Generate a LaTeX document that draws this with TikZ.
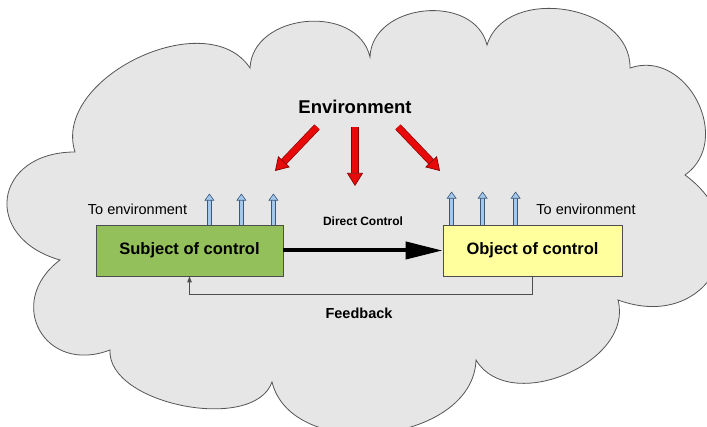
\documentclass[tikz,border=0pt]{standalone}
\usepackage{fontspec}
\setmainfont{Liberation Sans}
\usetikzlibrary{arrows.meta,calc,positioning}

\definecolor{cloudgray}{HTML}{E6E6E6}
\definecolor{cloudline}{HTML}{555555}
\definecolor{boxline}{HTML}{4D4D4D}
\definecolor{subjgreen}{HTML}{93C05B}
\definecolor{objyellow}{HTML}{FFFF9E}
\definecolor{envred}{HTML}{E80A0A}
\definecolor{redline}{HTML}{8A0000}
\definecolor{envblue}{HTML}{A4C8EC}
\definecolor{blueline}{HTML}{3C5878}

% one puff of the cloud: from #1 to #2, bulge #3
\newcommand{\lobe}[3]{.. controls ($(#1)!#3!82:(#2)$) and ($(#2)!#3!-82:(#1)$) .. (#2)}

\tikzset{
  box/.style={draw=boxline, line width=0.8pt, minimum height=51pt, inner sep=0pt,
    font=\fontsize{16.5}{20}\selectfont\bfseries},
  envlabel/.style={font=\fontsize{18.5}{22}\selectfont\bfseries},
  smalllabel/.style={font=\fontsize{14.5}{17}\selectfont},
  dclabel/.style={font=\fontsize{12}{14}\selectfont\bfseries},
  fblabel/.style={font=\fontsize{14.5}{17}\selectfont\bfseries},
  redarrow/.style={draw=redline, line width=0.7pt, double=envred, double distance=6pt,
    -{Triangle[fill=envred, length=13pt, width=16pt, line width=0.7pt]}},
  bluearrow/.style={draw=blueline, line width=0.6pt, double=envblue, double distance=3.6pt,
    -{Triangle[fill=envblue, length=7pt, width=10pt, line width=0.6pt]}},
  fbline/.style={draw=boxline, line width=0.8pt}
}

\begin{document}
\begin{tikzpicture}[x=1pt, y=1pt]
\useasboundingbox (0,0) rectangle (707,427);
\clip (0,0) rectangle (707,427);
\fill[white] (0,0) rectangle (707,427);

% Cloud
\coordinate (c1) at (75,275);
\coordinate (c2) at (250,359);
\coordinate (c3) at (370,370);
\coordinate (c4) at (487,382);
\coordinate (c5) at (630,359);
\coordinate (c6) at (685,252);
\coordinate (c7) at (618,127);
\coordinate (c8) at (476,67);
\coordinate (c9) at (272,45);
\coordinate (c10) at (110,77);
\coordinate (c11) at (60,167);
\path[fill=cloudgray, draw=cloudline, line width=0.8pt] (c1)
  \lobe{c1}{c2}{0.40} \lobe{c2}{c3}{0.46} \lobe{c3}{c4}{0.46}
  \lobe{c4}{c5}{0.44} \lobe{c5}{c6}{0.5} \lobe{c6}{c7}{0.68}
  \lobe{c7}{c8}{0.42} \lobe{c8}{c9}{0.41} \lobe{c9}{c10}{0.33}
  \lobe{c10}{c11}{0.68} \lobe{c11}{c1}{0.75} -- cycle;

% Subject and object
\node[box, fill=subjgreen, minimum width=187pt] (subj) at (189.5,176.5) {Subject of control};
\node[box, fill=objyellow, minimum width=179pt] (obj) at (532.5,176.5) {Object of control};

% Environment acting on the system
\node[envlabel] (env) at (355,320) {Environment};
\coordinate (r1s) at (317,300); \coordinate (r1e) at (275,256);
\coordinate (r2s) at (355,300); \coordinate (r2e) at (355,241);
\coordinate (r3s) at (398,300); \coordinate (r3e) at (440,256);
\draw[redarrow] (r1s) -- (r1e);
\draw[redarrow] (r2s) -- (r2e);
\draw[redarrow] (r3s) -- (r3e);

% Outputs to environment
\foreach \d [count=\i] in {74,42,10} {
  \coordinate (ul\i) at ($(subj.north east)+(-\d,31)$);
  \draw[bluearrow] ($(subj.north east)+(-\d,0)$) -- (ul\i);
}
\foreach \d [count=\i] in {9,40,73} {
  \coordinate (ur\i) at ($(obj.north west)+(\d,33)$);
  \draw[bluearrow] ($(obj.north west)+(\d,0)$) -- (ur\i);
}
\node[smalllabel] (toenvl) at (137.5,218) {To environment};
\node[smalllabel] (toenvr) at (586,218) {To environment};

% Direct control
\draw[line width=4pt, -{Triangle[length=37pt, width=17pt]}] (subj) -- (obj)
  node[midway, above=20pt, dclabel] (dc) {Direct Control};

% Feedback
\draw[fbline, -{Triangle[length=6pt, width=4.5pt]}] (obj.south) -- ++(0,-18) -| (subj.south);
\node[fblabel] (fb) at (359,114) {Feedback};
\end{tikzpicture}
\end{document}
